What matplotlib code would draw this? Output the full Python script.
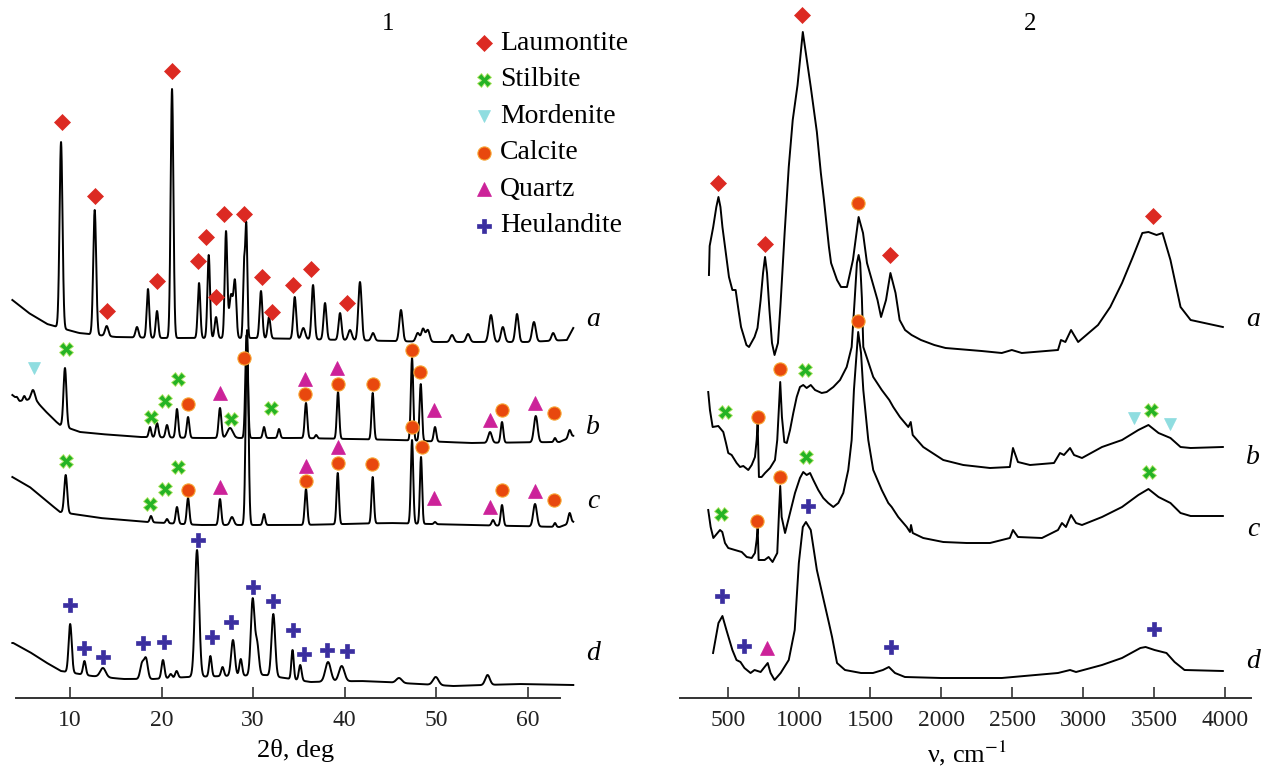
import numpy as np
import matplotlib
matplotlib.use("Agg")
import matplotlib.pyplot as plt

plt.rcParams["font.family"] = ["Liberation Serif", "DejaVu Serif"]
plt.rcParams["mathtext.fontset"] = "stix"

# ---------------- panel 1: XRD patterns (2theta, deg ; intensity, arb. units) ----------------
# baselines (read points) and peaks (position, top, gaussian width)
a_base_t = [3.7, 5.5, 7.5, 9.0, 11.0, 15.0, 20.0, 30.0, 40.0, 50.0, 60.0, 64.3, 65.0]
a_base_h = [398, 385, 374, 370, 365, 361, 360, 360, 358, 356, 356, 358, 370]
a_pk_t = [9.02, 12.70, 14.01, 17.32, 18.52, 19.51, 21.15, 24.10, 25.16, 25.96, 27.05, 27.6, 28.03,
          29.02, 29.27, 30.87, 31.75, 34.56, 35.5, 36.56, 37.87, 39.51, 40.6, 41.69, 43.11, 46.17,
          48.0, 48.58, 49.1, 51.75, 53.5, 56.0, 57.3, 58.85, 60.7, 62.8]
a_pk_h = [556, 488, 372, 371, 409, 387, 609, 415, 443, 381, 466, 403, 414, 431, 470, 407, 381, 401,
          370, 413, 395, 385, 368, 416, 365, 388, 365, 369, 368, 363, 364, 383, 371, 384, 376, 365]
a_pk_w = [0.16, 0.16, 0.18, 0.16, 0.14, 0.14, 0.15, 0.14, 0.14, 0.15, 0.14, 0.2, 0.15, 0.11, 0.11,
          0.15, 0.15, 0.16, 0.2, 0.16, 0.16, 0.16, 0.2, 0.18, 0.18, 0.18, 0.2, 0.18, 0.2, 0.2, 0.2,
          0.22, 0.2, 0.18, 0.2, 0.18]

b_base_t = [3.7, 4.5, 5.4, 6.5, 7.3, 8.4, 8.9, 11.1, 13.3, 17.6, 24.2, 35.1, 46.1, 53.7, 63.5, 65.0]
b_base_h = [303, 297, 298, 295, 287, 277, 273, 266, 264, 261, 260, 260, 258, 255, 256, 262]
b_pk_t = [4.2, 5.0, 5.96, 9.45, 18.74, 19.51, 20.6, 21.69, 22.9, 26.39, 27.49, 29.3, 31.2, 32.84,
          35.79, 36.9, 39.29, 43.08, 47.38, 48.33, 49.89, 55.9, 57.21, 60.9, 63.0, 64.6]
b_pk_h = [301, 302, 308, 330, 271, 275, 273, 289, 281, 290, 270, 363, 271, 269, 295, 263, 306, 305,
          340, 314, 271, 266, 276, 282, 260, 268]
b_pk_w = [0.1, 0.12, 0.22, 0.16, 0.13, 0.15, 0.15, 0.14, 0.14, 0.15, 0.3, 0.14, 0.13, 0.13, 0.14,
          0.12, 0.13, 0.13, 0.13, 0.13, 0.14, 0.2, 0.14, 0.2, 0.12, 0.15]

c_base_t = [3.7, 5.6, 7.3, 8.9, 13.3, 18.4, 24.2, 35.1, 45.0, 53.7, 63.5, 65.0]
c_base_h = [221, 211, 198, 186, 180, 176, 173, 173, 175, 173, 171, 176]
c_pk_t = [9.53, 18.85, 20.6, 21.69, 22.9, 26.39, 27.7, 29.35, 31.2, 35.79, 39.26, 43.08, 47.38,
          48.36, 49.89, 56.23, 57.21, 60.82, 63.0, 64.6]
c_pk_h = [223, 182, 179, 191, 200, 199, 181, 368, 184, 209, 225, 221, 258, 241, 176, 178, 193, 194,
          175, 185]
c_pk_w = [0.16, 0.13, 0.13, 0.14, 0.14, 0.14, 0.2, 0.15, 0.13, 0.14, 0.13, 0.13, 0.13, 0.12, 0.12,
          0.15, 0.14, 0.2, 0.12, 0.15]

d_base_t = [3.8, 5.6, 7.3, 9.0, 12.4, 15.8, 19.1, 22.9, 31.3, 36.3, 41.8, 44.3, 51.9, 59.0, 65.0]
d_base_h = [55, 46, 36, 27, 22, 19, 19, 21, 23, 16, 17, 16, 12, 14, 13]
d_pk_t = [10.02, 11.58, 13.6, 17.87, 18.3, 20.16, 21.0, 21.65, 23.88, 25.34, 26.67, 27.81, 28.66,
          29.96, 30.44, 32.22, 34.32, 35.16, 38.2, 39.69, 45.96, 49.97, 55.63]
d_pk_h = [74, 37, 30, 34, 39, 38, 24, 27, 148, 42, 31, 58, 39, 98, 54, 84, 48, 33, 36, 32, 20, 21, 23]
d_pk_w = [0.17, 0.15, 0.3, 0.2, 0.2, 0.16, 0.15, 0.15, 0.23, 0.14, 0.15, 0.2, 0.15, 0.2, 0.2, 0.2,
          0.13, 0.15, 0.3, 0.3, 0.3, 0.3, 0.25]

# phase markers on panel 1 (2theta, height)
xrd_lau_t = [9.09, 12.73, 14.01, 19.48, 21.11, 23.99, 24.86, 25.96, 26.83, 28.98, 30.95, 32.04, 34.37, 36.34, 40.27]
xrd_lau_h = [576, 502, 387, 417, 627, 437, 461, 401, 484, 484, 421, 386, 413, 429, 395]
xrd_sti_t = [9.53, 18.82, 20.38, 21.77, 27.6, 31.93, 9.53, 18.74, 20.38, 21.77]
xrd_sti_h = [349, 281, 297, 319, 279, 290, 237, 194, 209, 231]
xrd_mor_t = [6.07]
xrd_mor_h = [330]
xrd_cal_t = [22.86, 29.02, 35.68, 39.26, 43.08, 47.38, 48.28, 57.21, 62.9,
             22.86, 35.79, 39.26, 43.0, 47.38, 48.47, 57.21, 62.9]
xrd_cal_h = [294, 340, 304, 314, 314, 348, 326, 288, 285,
             208, 217, 235, 234, 271, 251, 208, 198]
xrd_qtz_t = [26.39, 35.68, 39.15, 49.81, 55.9, 60.82, 26.39, 35.79, 39.26, 49.78, 55.9, 60.82]
xrd_qtz_h = [305, 319, 330, 288, 278, 295, 211, 232, 251, 200, 191, 207]
xrd_heu_t = [10.02, 11.5, 13.6, 17.98, 20.31, 23.96, 25.52, 27.6, 29.96, 32.14, 34.32, 35.57, 38.14, 40.23]
xrd_heu_h = [93, 50, 41, 55, 56, 158, 61, 76, 111, 97, 68, 44, 48, 47]

# ---------------- panel 2: IR spectra (wavenumber, cm-1 ; arb. units) ----------------
ir_a_nu = [363, 368, 393, 415, 430, 444, 458, 504, 528, 551, 571, 589, 627, 645, 684, 705, 727, 744,
           758, 772, 789, 807, 825, 849, 866, 896, 925, 953, 987, 1024, 1080, 1123, 1151, 1173, 1208,
           1223, 1265, 1293, 1335, 1377, 1417, 1448, 1476, 1504, 1550, 1575, 1610, 1641, 1677, 1706,
           1744, 1790, 1856, 1950, 2029, 2283, 2425, 2496, 2566, 2821, 2842, 2873, 2913, 2963, 3103,
           3189, 3272, 3345, 3415, 3458, 3515, 3557, 3613, 3684, 3755, 3982]
ir_a_h = [423, 452, 471, 491, 501, 491, 471, 421, 408, 408, 388, 371, 353, 351, 361, 370, 398, 425,
          441, 425, 388, 355, 343, 355, 391, 465, 531, 578, 613, 666, 611, 566, 525, 498, 451,
          435, 418, 411, 411, 438, 481, 465, 435, 421, 398, 381, 398, 425, 405, 378,
          368, 363, 358, 353, 350, 347, 345, 348, 345, 348, 358, 356, 368, 356, 373,
          391, 415, 440, 465, 466, 463, 465, 438, 391, 378, 371]

ir_b_nu = [358, 370, 389, 429, 464, 483, 499, 523, 558, 582, 605, 640, 664, 687, 699, 706, 715, 734,
           758, 793, 828, 844, 856, 865, 877, 894, 911, 934, 957, 981, 1004, 1027, 1051, 1080, 1110,
           1157, 1192, 1239, 1286, 1333, 1368, 1390, 1405, 1417, 1428, 1440, 1450, 1520, 1580, 1633,
           1661, 1708, 1767, 1784, 1798, 1872, 2013, 2154, 2342, 2482, 2504, 2539, 2624, 2793, 2835,
           2863, 2906, 2934, 2990, 3131, 3272, 3387, 3458, 3529, 3613, 3684, 3755, 3982]
ir_b_h = [306, 288, 271, 272, 266, 255, 245, 243, 235, 231, 232, 228, 233, 241, 258, 275, 221, 221,
          225, 230, 238, 258, 291, 316, 281, 256, 255, 268, 285, 301, 311, 313, 310, 313, 308,
          305, 306, 311, 318, 331, 351, 400, 435, 443, 435, 400, 351, 321, 308, 298,
          291, 281, 271, 276, 263, 251, 238, 233, 230, 231, 250, 236, 233, 235, 245,
          243, 250, 243, 240, 251, 258, 268, 273, 265, 260, 251, 250, 251]

ir_c_nu = [358, 375, 394, 441, 457, 476, 499, 546, 594, 629, 664, 687, 699, 706, 713, 755, 783, 811,
           844, 858, 865, 875, 899, 934, 969, 1004, 1027, 1051, 1075, 1098, 1133, 1168, 1203, 1239,
           1274, 1309, 1344, 1368, 1384, 1403, 1414, 1434, 1450, 1485, 1520, 1580, 1626, 1650, 1696,
           1756, 1779, 1786, 1798, 1872, 2013, 2178, 2342, 2482, 2504, 2539, 2708, 2821, 2849, 2877,
           2913, 2948, 2990, 3131, 3272, 3387, 3458, 3529, 3613, 3684, 3755, 3982]
ir_c_h = [188, 171, 160, 168, 166, 155, 150, 148, 146, 141, 140, 145, 158, 170, 138, 138, 141, 136,
          145, 191, 212, 181, 165, 185, 205, 220, 226, 223, 225, 218, 208, 200, 195, 191,
          195, 205, 228, 258, 308, 345, 366, 345, 308, 258, 228, 208, 195, 191, 181,
          171, 166, 173, 165, 160, 156, 155, 155, 160, 168, 161, 160, 168, 175, 171,
          183, 175, 173, 181, 191, 203, 209, 201, 195, 185, 182, 182]

ir_d_nu = [392, 430, 458, 486, 528, 557, 585, 613, 656, 684, 727, 777, 797, 825, 868, 925, 967, 996,
           1024, 1046, 1080, 1123, 1166, 1208, 1230, 1265, 1321, 1434, 1518, 1588, 1630, 1673, 1743,
           2000, 2425, 2821, 2849, 2906, 2948, 3131, 3272, 3401, 3438, 3501, 3585, 3642, 3712, 3982]
ir_d_h = [45, 75, 82, 68, 48, 38, 36, 30, 25, 28, 26, 35, 25, 18, 25, 38, 68, 135,
          171, 176, 168, 128, 101, 75, 61, 35, 28, 25, 25, 28, 31, 25, 21,
          20, 20, 25, 26, 28, 26, 33, 40, 50, 51, 48, 45, 36, 28, 27]

# phase markers on panel 2 (wavenumber, height)
ir_lau_nu = [430, 758, 1018, 1641, 3487]
ir_lau_h = [515, 454, 683, 443, 482]
ir_sti_nu = [1039, 476, 3478, 1044, 448, 3460]
ir_sti_h = [328, 286, 288, 241, 184, 226]
ir_mor_nu = [3353, 3613]
ir_mor_h = [280, 274]
ir_cal_nu = [1414, 865, 707, 1413, 863, 704]
ir_cal_h = [495, 329, 281, 377, 221, 177]
ir_qtz_nu = [772]
ir_qtz_h = [50]
ir_heu_nu = [1058, 458, 613, 1646, 3495]
ir_heu_h = [192, 102, 52, 51, 69]

xrd_ticks = [10, 20, 30, 40, 50, 60]
ir_ticks = [500, 1000, 1500, 2000, 2500, 3000, 3500, 4000]
curve_labels = ["a", "b", "c", "d"]
phase_names = ["Laumontite", "Stilbite", "Mordenite", "Calcite", "Quartz", "Heulandite"]

# marker styles
styles = {
    "Laumontite": dict(marker="D", ms=8.5, mfc="#dc2a22", mec="#dc2a22", mew=0.5),
    "Stilbite": dict(marker="X", ms=9.5, mfc="#25b325", mec="#b8e86a", mew=0.6),
    "Mordenite": dict(marker="v", ms=9, mfc="#8fdde0", mec="#8fdde0", mew=0.5),
    "Calcite": dict(marker="o", ms=9.5, mfc="#e8480e", mec="#f7a431", mew=0.8),
    "Quartz": dict(marker="^", ms=9.5, mfc="#cc2299", mec="#cc2299", mew=0.5),
    "Heulandite": dict(marker="P", ms=10, mfc="#3b2fa0", mec="#3b2fa0", mew=0.5),
}


def xrd_curve(t, base_t, base_h, pk_t, pk_h, pk_w):
    y = np.interp(t, base_t, base_h)
    for p, top, w in zip(pk_t, pk_h, pk_w):
        amp = top - np.interp(p, base_t, base_h)
        y = y + amp * np.exp(-0.5 * ((t - p) / w) ** 2)
    return y


fig = plt.figure(figsize=(12.7, 7.78), dpi=100)
axL = fig.add_axes([0, 80 / 778, 600 / 1270, 698 / 778])
axR = fig.add_axes([640 / 1270, 80 / 778, 630 / 1270, 698 / 778])

for ax in (axL, axR):
    ax.set_ylim(0, 698)
    for s in ("left", "right", "top"):
        ax.spines[s].set_visible(False)
    ax.spines["bottom"].set_linewidth(1.4)
    ax.spines["bottom"].set_color("#333333")
    ax.set_yticks([])
    ax.tick_params(axis="x", direction="in", length=8, width=1.2, color="#333333",
                   labelsize=17, pad=9, labelcolor="#222222")
    ax.patch.set_alpha(0)

# panel 1
axL.set_xlim(2.35, 67.92)
axL.spines["bottom"].set_bounds(4.05, 63.6)
axL.set_xticks(xrd_ticks)
t1 = np.linspace(3.7, 65.0, 5000)
for bt, bh, pt, ph, pw in [(a_base_t, a_base_h, a_pk_t, a_pk_h, a_pk_w),
                           (b_base_t, b_base_h, b_pk_t, b_pk_h, b_pk_w),
                           (c_base_t, c_base_h, c_pk_t, c_pk_h, c_pk_w),
                           (d_base_t, d_base_h, d_pk_t, d_pk_h, d_pk_w)]:
    axL.plot(t1, xrd_curve(t1, bt, bh, pt, ph, pw), color="black", lw=1.4, zorder=2)

for name, xs, ys in [("Laumontite", xrd_lau_t, xrd_lau_h), ("Stilbite", xrd_sti_t, xrd_sti_h),
                     ("Mordenite", xrd_mor_t, xrd_mor_h), ("Calcite", xrd_cal_t, xrd_cal_h),
                     ("Quartz", xrd_qtz_t, xrd_qtz_h), ("Heulandite", xrd_heu_t, xrd_heu_h)]:
    axL.plot(xs, ys, ls="none", zorder=3, clip_on=False, **styles[name])

for lab, h in zip(curve_labels, [378, 271, 196, 45]):
    axL.text(67.16, h, lab, style="italic", fontsize=20, ha="center", va="center")
axL.text(44.8, 674, "1", fontsize=18, ha="center", va="center")
axL.set_xlabel("2θ, deg", fontsize=19)
axL.xaxis.set_label_coords(296 / 600, -52 / 698)
axL.xaxis.label.set_va("center")

# legend (drawn by hand in the upper right of panel 1)
for i, name in enumerate(phase_names):
    hy = 655 - 36.6 * i
    axL.plot([55.25], [hy], ls="none", clip_on=False, **styles[name])
    axL.text(57.0, hy, name, fontsize=20, ha="left", va="center")

# panel 2
axR.set_xlim(-122.5, 4314)
axR.spines["bottom"].set_bounds(162, 4178)
axR.set_xticks(ir_ticks)
for nu, h in [(ir_a_nu, ir_a_h), (ir_b_nu, ir_b_h), (ir_c_nu, ir_c_h), (ir_d_nu, ir_d_h)]:
    axR.plot(nu, h, color="black", lw=1.4, zorder=2, solid_joinstyle="round")

for name, xs, ys in [("Laumontite", ir_lau_nu, ir_lau_h), ("Stilbite", ir_sti_nu, ir_sti_h),
                     ("Mordenite", ir_mor_nu, ir_mor_h), ("Calcite", ir_cal_nu, ir_cal_h),
                     ("Quartz", ir_qtz_nu, ir_qtz_h), ("Heulandite", ir_heu_nu, ir_heu_h)]:
    axR.plot(xs, ys, ls="none", zorder=3, clip_on=False, **styles[name])

for lab, h in zip(curve_labels, [378, 241, 168, 36]):
    axR.text(4194, h, lab, style="italic", fontsize=20, ha="center", va="center")
axR.text(2624, 674, "2", fontsize=18, ha="center", va="center")
axR.set_xlabel("ν, cm$^{-1}$", fontsize=19)
axR.xaxis.set_label_coords((967 - 640) / 630, -55 / 698)
axR.xaxis.label.set_va("center")

fig.savefig("out.png", dpi=100)
